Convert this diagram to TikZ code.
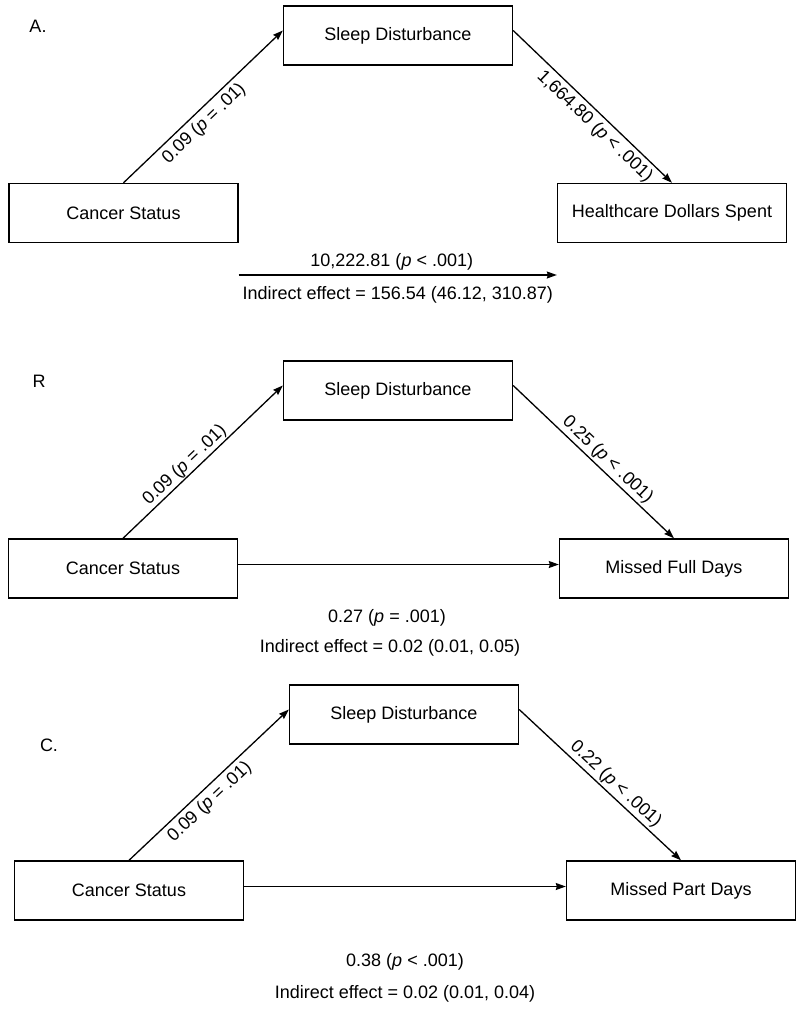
\documentclass[tikz,border=0pt]{standalone}
\usepackage{fontspec}
\setmainfont{Liberation Sans}
\usetikzlibrary{arrows.meta}
\begin{document}
\begin{tikzpicture}[x=1pt,y=-1pt,font=\fontsize{18}{21}\selectfont,
    box/.style={draw,line width=1.4pt,minimum width=229pt,minimum height=59pt,inner sep=0pt},
    arr/.style={-{Stealth[length=10pt,width=7pt,inset=1pt]},line width=1.3pt},
    coef/.style={sloped,inner sep=1pt}]
        \useasboundingbox (0,0) rectangle (800,1016);
        % panel A
        \node (tagA) at (38,26) {A.};
        \node[box] (sleepA) at (398,35.5) {Sleep Disturbance};
        \node[box] (cancerA) at (123.5,213) {Cancer Status};
        \node[box] (healthA) at (672,213) {Healthcare Dollars Spent};
        \draw[arr] (cancerA.north) -- ([yshift=5pt]sleepA.west) node[coef,pos=0.45,below=3pt]{0.09 (\textit{p} = .01)};
        \draw[arr] ([yshift=5pt]sleepA.east) -- (healthA.north) node[coef,pos=0.57,below=3pt]{1,664.80 (\textit{p} < .001)};
        \draw[arr] ([yshift=-62pt]cancerA.east) -- ([yshift=-62pt]healthA.west)
            node[midway,above=1pt,xshift=-6pt]{10,222.81 (\textit{p} < .001)}
            node[midway,below=7pt]{Indirect effect = 156.54 (46.12, 310.87)};
        % panel B
        \node (tagB) at (39,381) {R};
        \node[box] (sleepB) at (398,390.5) {Sleep Disturbance};
        \node[box] (cancerB) at (123,568.5) {Cancer Status};
        \node[box] (missedB) at (674,568.5) {Missed Full Days};
        \draw[arr] (cancerB.north) -- ([yshift=5pt]sleepB.west) node[coef,pos=0.43,above=0pt]{0.09 (\textit{p} = .01)};
        \draw[arr] ([yshift=5pt]sleepB.east) -- (missedB.north) node[coef,pos=0.54,above=1pt]{0.25 (\textit{p} < .001)};
        \draw[arr] ([yshift=4pt]cancerB.east) -- ([yshift=4pt]missedB.west);
        \node (directB) at (387,618) {0.27 (\textit{p} = .001)};
        \node (indirectB) at (390,648) {Indirect effect = 0.02 (0.01, 0.05)};
        % panel C
        \node (tagC) at (49,745) {C.};
        \node[box] (sleepC) at (404,714.5) {Sleep Disturbance};
        \node[box] (cancerC) at (129,890.5) {Cancer Status};
        \node[box] (missedC) at (681,890.5) {Missed Part Days};
        \draw[arr] (cancerC.north) -- ([yshift=5pt]sleepC.west) node[coef,pos=0.45,below=3pt]{0.09 (\textit{p} = .01)};
        \draw[arr] ([yshift=5pt]sleepC.east) -- (missedC.north) node[coef,pos=0.55,above=1pt]{0.22 (\textit{p} < .001)};
        \draw[arr] ([yshift=4pt]cancerC.east) -- ([yshift=4pt]missedC.west);
        \node (directC) at (405,962) {0.38 (\textit{p} < .001)};
        \node (indirectC) at (405,994) {Indirect effect = 0.02 (0.01, 0.04)};
\end{tikzpicture}
\end{document}
